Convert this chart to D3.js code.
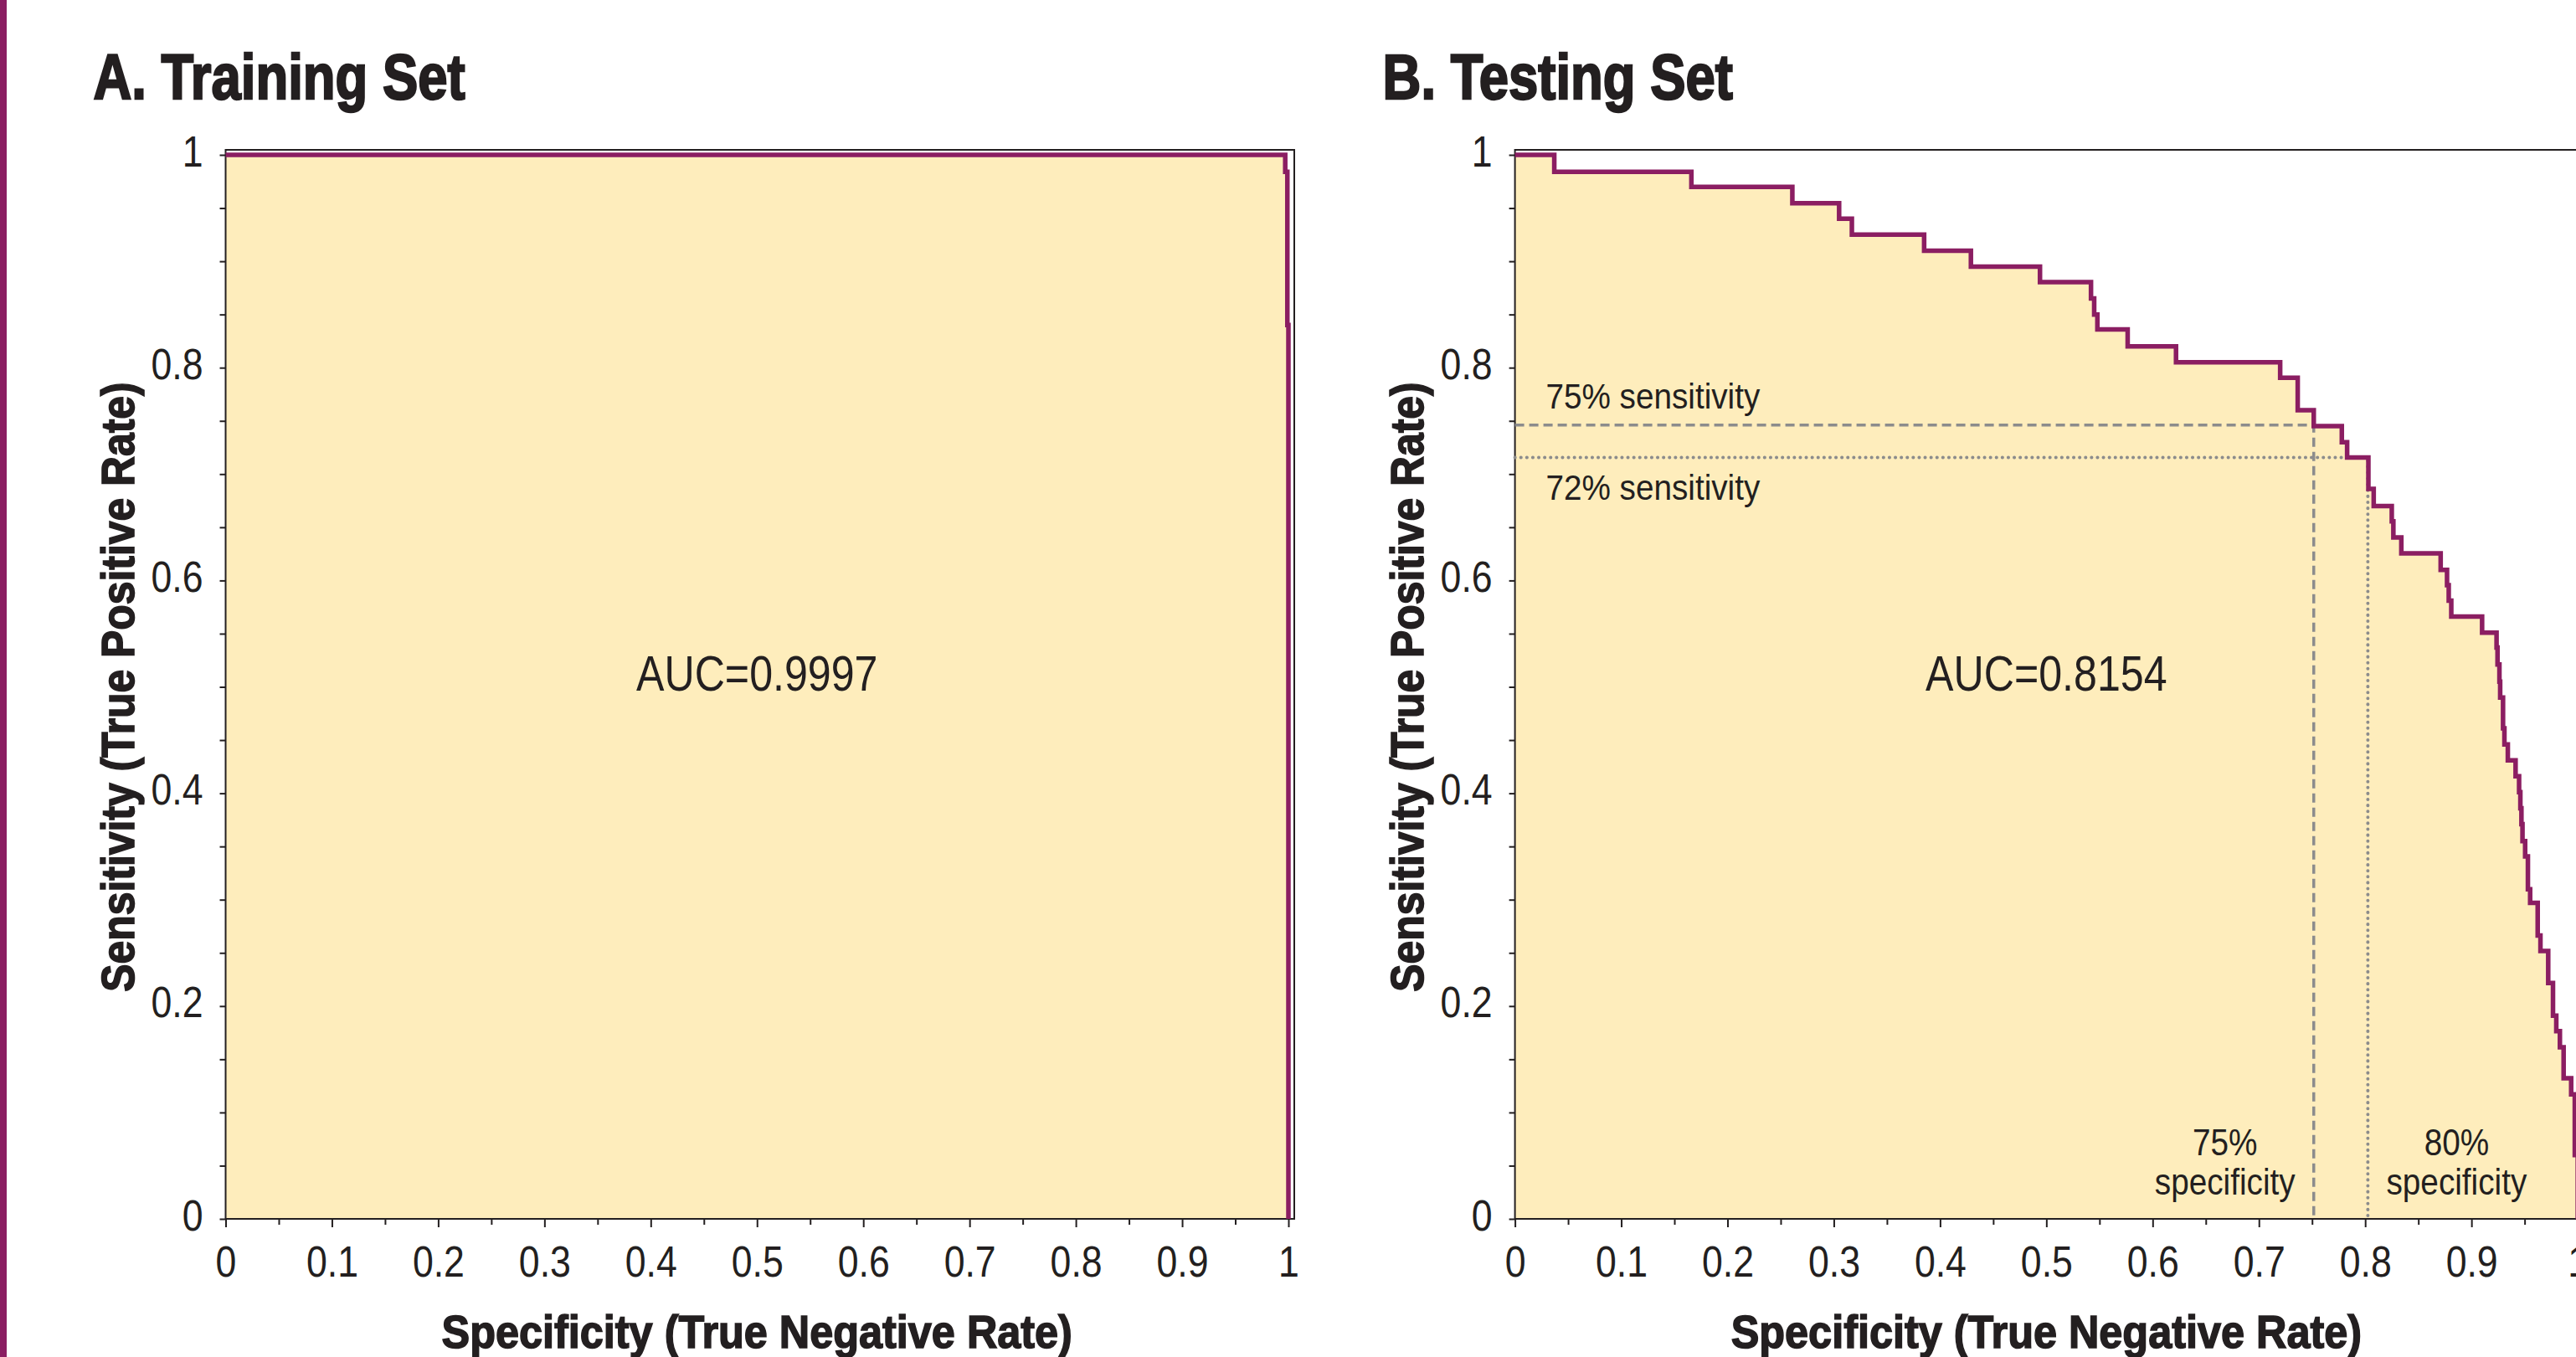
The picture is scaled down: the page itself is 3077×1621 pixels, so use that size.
<!DOCTYPE html>
<html>
<head>
<meta charset="utf-8">
<script src="https://cdn.jsdelivr.net/npm/d3@7"></script>
<style>
  html, body { margin: 0; padding: 0; background: #fff; }
  svg { display: block; }
  text { font-family: "Liberation Sans", Arimo, Arial, sans-serif; fill: #231f20; }
  text.heavy { font-weight: bold; stroke: #231f20; stroke-width: 1.6px; }
</style>
</head>
<body>
<div id="chart"></div>
<script>
// ROC curves: [specificity, sensitivity] corners, drawn as step-after
const trainSpec = [0, 0.997, 0.999, 1.0];
const trainSens = [1, 0.984, 0.84, 0];

const testSpec = [0, 0.037, 0.166, 0.261, 0.305, 0.317, 0.385, 0.429, 0.494, 0.542, 0.545,
  0.548, 0.5765, 0.622, 0.720, 0.7365, 0.7516, 0.778, 0.783, 0.803, 0.808, 0.825, 0.8265,
  0.834, 0.871, 0.877, 0.8786, 0.881, 0.910, 0.9236, 0.9245, 0.9263, 0.927, 0.9297, 0.931,
  0.9342, 0.9415, 0.9448, 0.946, 0.947, 0.948, 0.9505, 0.9531, 0.9552, 0.9623, 0.9649,
  0.9722, 0.9767, 0.9798, 0.9832, 0.9867, 0.9938, 0.9972, 1.0];
const testSens = [1, 0.984, 0.970, 0.9545, 0.940, 0.925, 0.910, 0.895, 0.8805, 0.865, 0.850,
  0.836, 0.820, 0.805, 0.7905, 0.760, 0.745, 0.730, 0.7155, 0.686, 0.670, 0.6555, 0.6405,
  0.6255, 0.610, 0.5955, 0.581, 0.566, 0.551, 0.537, 0.521, 0.505, 0.490, 0.461, 0.446,
  0.431, 0.416, 0.401, 0.386, 0.371, 0.355, 0.3406, 0.3098, 0.2971, 0.2663, 0.2518,
  0.2217, 0.1909, 0.1764, 0.1612, 0.1322, 0.117, 0.06, 0];

const xTicks = d3.range(0, 21).map(i => i / 20);
const xTickLabels = ["0", "0.1", "0.2", "0.3", "0.4", "0.5", "0.6", "0.7", "0.8", "0.9", "1"];
const yTicks = d3.range(0, 21).map(i => i / 20);
const yTickLabels = ["0", "0.2", "0.4", "0.6", "0.8", "1"];

const cutoffs = [
  {spec: 0.7516, sens: 0.746, dash: "11,6", sensLabel: "75% sensitivity", specLabel: "75%"},
  {spec: 0.8025, sens: 0.7155, dash: "0.1,7", sensLabel: "72% sensitivity", specLabel: "80%"}
];

const purple = "#8b1e62";
const fillCol = "#feedbc";
const grey = "#8c8c8c";

const W = 3077, H = 1621;
const svg = d3.select("#chart").append("svg")
  .attr("width", W).attr("height", H);
svg.append("rect").attr("width", W).attr("height", H).attr("fill", "#fff");

// purple bar at the left edge
svg.append("rect").attr("x", 0).attr("y", 0).attr("width", 8).attr("height", H).attr("fill", purple);

const y = d3.scaleLinear().domain([0, 1]).range([1456, 185]);

// fake a condensed face: squeeze text horizontally around its anchor point
function squeeze(sel, k) {
  sel.each(function() {
    const t = d3.select(this);
    const tx = +t.attr("x") || 0, ty = +t.attr("y") || 0;
    t.attr("transform", `translate(${tx},${ty}) scale(${k},1) translate(${-tx},${-ty})`);
  });
}

function panel(left, title, spec, sens, auc, withCutoffs) {
  const x = d3.scaleLinear().domain([0, 1]).range([left, left + 1269.5]);
  const g = svg.append("g");
  const pts = spec.map((s, i) => [s, sens[i]]);

  g.append("path")
    .datum(pts)
    .attr("fill", fillCol)
    .attr("d", d3.area().curve(d3.curveStepAfter)
      .x(d => x(d[0])).y0(y(0)).y1(d => y(d[1])));

  // frame
  g.append("path")
    .attr("fill", "none").attr("stroke", "#231f20").attr("stroke-width", 2)
    .attr("d", `M${x(0)},${y(0)}V${y(1) - 6}H${x(1) + 7}V${y(0)}Z`);

  if (withCutoffs) {
    cutoffs.forEach(c => {
      const dotted = c.dash.startsWith("0.1");
      g.append("path")
        .attr("fill", "none").attr("stroke", grey).attr("stroke-width", dotted ? 4 : 3.5)
        .attr("stroke-linecap", dotted ? "round" : "butt")
        .attr("stroke-dasharray", c.dash)
        .attr("d", `M${x(0)},${y(c.sens)}H${x(c.spec)}V${y(0)}`);
    });
    squeeze(g.append("text").attr("x", x(0.029)).attr("y", y(cutoffs[0].sens) - 20)
      .attr("font-size", 43).text(cutoffs[0].sensLabel), 0.9);
    squeeze(g.append("text").attr("x", x(0.029)).attr("y", y(cutoffs[1].sens) + 50)
      .attr("font-size", 43).text(cutoffs[1].sensLabel), 0.9);
    cutoffs.forEach((c, i) => {
      const cx = i === 0 ? x(c.spec) - 106 : x(c.spec) + 106;
      squeeze(g.append("text").attr("x", cx).attr("y", y(0) - 76)
        .attr("text-anchor", "middle").attr("font-size", 44).text(c.specLabel), 0.88);
      squeeze(g.append("text").attr("x", cx).attr("y", y(0) - 29)
        .attr("text-anchor", "middle").attr("font-size", 44).text("specificity"), 0.88);
    });
  }

  g.append("path")
    .datum(pts)
    .attr("fill", "none").attr("stroke", purple).attr("stroke-width", 5.5)
    .attr("stroke-linejoin", "miter")
    .attr("d", d3.line().curve(d3.curveStepAfter).x(d => x(d[0])).y(d => y(d[1])));

  // x axis
  const xa = g.append("g").attr("transform", `translate(0,${y(0)})`)
    .call(d3.axisBottom(x).tickValues(xTicks).tickSize(8).tickFormat(""));
  xa.select(".domain").remove();
  xa.selectAll(".tick line").attr("stroke", "#231f20").attr("stroke-width", 2)
    .attr("y2", (d, i) => i % 2 === 0 ? 10 : 7);
  squeeze(xa.selectAll(".tick").filter((d, i) => i % 2 === 0).append("text")
    .attr("x", 0).attr("y", 69).attr("text-anchor", "middle").attr("font-size", 51)
    .attr("fill", "#231f20")
    .text(d => xTickLabels[Math.round(d * 10)]), 0.875);

  // y axis
  const ya = g.append("g").attr("transform", `translate(${x(0)},0)`)
    .call(d3.axisLeft(y).tickValues(yTicks).tickSize(7).tickFormat(""));
  ya.select(".domain").remove();
  ya.selectAll(".tick line").attr("stroke", "#231f20").attr("stroke-width", 2);
  squeeze(ya.selectAll(".tick").filter((d, i) => i % 4 === 0).append("text")
    .attr("x", -27).attr("y", 13).attr("text-anchor", "end").attr("font-size", 51)
    .attr("fill", "#231f20")
    .text(d => yTickLabels[Math.round(d * 5)]), 0.875);

  squeeze(g.append("text").attr("x", x(0.5)).attr("y", y(0.5) + 5)
    .attr("text-anchor", "middle").attr("font-size", 59).text("AUC=" + auc), 0.85);

  squeeze(g.append("text").attr("class", "heavy").attr("x", left - 158).attr("y", 118)
    .attr("font-size", 76).style("stroke-width", "2.4px").text(title), 0.835);

  squeeze(g.append("text").attr("class", "heavy").attr("x", x(0.5)).attr("y", 1610)
    .attr("text-anchor", "middle").attr("font-size", 56)
    .text("Specificity (True Negative Rate)"), 0.9);

  g.append("text").attr("class", "heavy")
    .attr("transform", `translate(${left - 110},${(y(0) + y(1)) / 2}) rotate(-90) scale(0.89,1)`)
    .attr("text-anchor", "middle").attr("font-size", 56)
    .text("Sensitivity (True Positive Rate)");
}

panel(269.5, "A. Training Set", trainSpec, trainSens, "0.9997", false);
panel(1809.6, "B. Testing Set", testSpec, testSens, "0.8154", true);
</script>
</body>
</html>
